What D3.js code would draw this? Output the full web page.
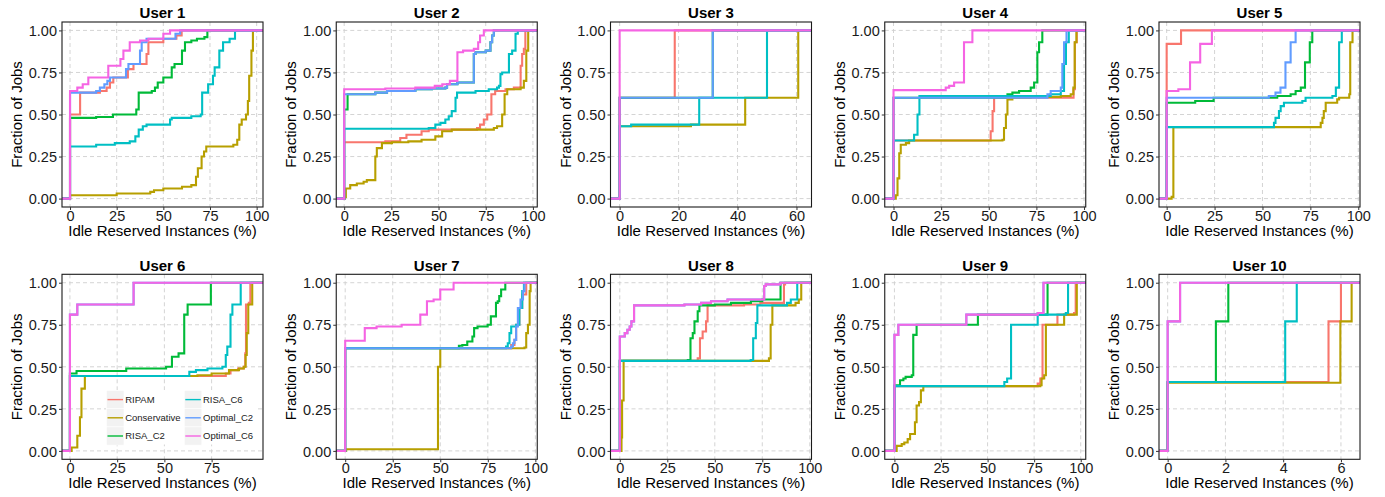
<!DOCTYPE html>
<html>
<head>
<meta charset="utf-8">
<script src="https://cdn.jsdelivr.net/npm/d3@7"></script>
<style>
  html, body { margin: 0; padding: 0; background: #fff; }
  svg { display: block; font-family: "Liberation Sans", Arial, Helvetica, sans-serif; }
</style>
</head>
<body>
<svg id="chart" width="1385" height="497"></svg>
<script>
// Series (drawn in this order, last on top)
const seriesNames = ["RIPAM", "Conservative", "RISA_C2", "RISA_C6", "Optimal_C2", "Optimal_C6"];
const seriesColors = ["#F8766D", "#B79F00", "#00BA38", "#00BFC4", "#619CFF", "#F564E3"];

const userTitles = ["User 1", "User 2", "User 3", "User 4", "User 5",
                    "User 6", "User 7", "User 8", "User 9", "User 10"];

// x axis range (idle reserved instances, %) and tick values for each user
const xRanges = [[-4.3, 103.4], [-4.2, 102.3], [-3.1, 65.1], [-4.6, 100.9], [-4.0, 100.9],
                 [-4.2, 102.2], [-4.7, 101.0], [-4.9, 100.9], [-5.2, 102.7], [-0.3, 6.66]];
const xTickValues = [[0, 25, 50, 75, 100], [0, 25, 50, 75, 100], [0, 20, 40, 60],
                     [0, 25, 50, 75, 100], [0, 25, 50, 75, 100], [0, 25, 50, 75],
                     [0, 25, 50, 75, 100], [0, 25, 50, 75, 100], [0, 25, 50, 75, 100], [0, 2, 4, 6]];
const yTickValues = [0, 0.25, 0.5, 0.75, 1];

// Empirical CDF jumps per user: one list of [idle %, fraction of jobs] per series,
// in the order of seriesNames.
const user1 = [
  [[0,0.50],[5.4,0.63],[16,0.64],[19.6,0.66],[21.4,0.69],[23.2,0.72],[31,0.77],[34,0.80],[41,0.86],[42,0.93],[50,0.95],[57,0.97],[59.8,1]],
  [[0,0.02],[25,0.03],[43,0.04],[45,0.05],[50,0.06],[60,0.07],[65,0.08],[67.5,0.13],[68.5,0.18],[70.5,0.25],[71.8,0.28],[73,0.31],[87.5,0.32],[89.6,0.35],[90.7,0.44],[92,0.47],[94.3,0.50],[95.3,0.58],[96,0.73],[97.2,0.88],[98,1]],
  [[0,0.48],[14,0.485],[23,0.50],[35.5,0.53],[36.8,0.63],[43.8,0.64],[45.5,0.66],[47,0.69],[50,0.72],[54.5,0.78],[56,0.80],[60,0.88],[61.6,0.93],[65,0.94],[68,0.95],[72,0.96],[73.6,1]],
  [[0,0.31],[14,0.32],[24,0.33],[32,0.34],[35,0.37],[36.8,0.41],[39,0.43],[41,0.44],[53.6,0.47],[54.5,0.48],[65,0.49],[70,0.50],[70.8,0.63],[74,0.68],[76.6,0.73],[77.5,0.78],[80,0.88],[82,0.93],[85.5,0.95],[88.4,1]],
  [[0,0.63],[14,0.64],[16,0.66],[18.4,0.68],[20,0.70],[21.4,0.72],[30,0.77],[31.3,0.80],[37.5,0.88],[38.4,0.93],[41,0.95],[56.5,0.98],[59,1]],
  [[0,0.64],[3.9,0.66],[6.8,0.68],[9.8,0.72],[20.5,0.79],[27,0.83],[28.6,0.88],[32,0.93],[37.5,0.94],[42,0.95],[50,0.98],[53.6,1]]
];
const user2 = [
  [[0,0.335],[21.8,0.34],[29.7,0.36],[33,0.38],[41,0.40],[44.8,0.41],[70.4,0.42],[72,0.44],[74,0.47],[75.8,0.50],[78,0.62],[80,0.64],[85.5,0.65],[89.9,0.66],[93.5,0.79],[94.3,0.86],[95.2,0.89],[96,1]],
  [[0.3,0.01],[0.9,0.06],[3.2,0.08],[6.7,0.09],[10.3,0.10],[12,0.11],[16.5,0.25],[17.3,0.30],[20,0.33],[25.3,0.335],[34,0.34],[41,0.35],[48.3,0.37],[51.9,0.40],[57,0.41],[79.3,0.42],[81,0.43],[83.7,0.50],[85,0.62],[86.4,0.65],[93.5,0.66],[95.2,0.70],[96.5,0.88],[97.5,1]],
  [[0,0.53],[1.8,0.62],[16.5,0.63],[22.7,0.64],[37.7,0.65],[46.5,0.655],[53.6,0.66],[54.5,0.68],[60,0.69],[68.7,0.86],[69.6,0.87],[75,0.88],[77.5,0.93],[78.4,0.97],[79.3,1]],
  [[0,0.415],[44.8,0.42],[48.3,0.44],[51,0.45],[53.6,0.47],[55.4,0.49],[57,0.52],[59,0.60],[59.8,0.63],[69.6,0.64],[76.6,0.65],[81,0.66],[82,0.67],[82.8,0.74],[83.7,0.75],[87.3,0.86],[89,0.88],[90.8,0.98],[92,1]],
  [[0,0.62],[16.5,0.63],[22.7,0.64],[37.7,0.65],[46.5,0.655],[53.6,0.66],[54.5,0.68],[60,0.69],[68.7,0.86],[69.6,0.87],[75,0.88],[77.5,0.93],[78.4,0.97],[79.3,1]],
  [[0,0.65],[21.8,0.655],[37.7,0.66],[48,0.67],[52,0.68],[56,0.70],[60,0.87],[63,0.88],[68.7,0.89],[71,0.93],[72,0.97],[74,1]]
];
const user3 = [
  [[0,0.60],[18.7,1]],
  [[0,0.43],[24.2,0.44],[42.6,0.60],[60.6,1]],
  [[0,0.60],[31.6,1]],
  [[0,0.43],[3.9,0.44],[27,0.60],[50,1]],
  [[0,0.60],[31.6,1]],
  [[0,1]]
];
const user4 = [
  [[0,0.345],[51,0.40],[52,0.52],[52.8,0.60],[94.5,0.65],[95.2,0.93],[96.2,1]],
  [[1.2,0.02],[2.1,0.12],[3,0.27],[3.8,0.32],[6.5,0.33],[8.2,0.345],[57.2,0.35],[58,0.42],[59,0.50],[59.8,0.59],[62.4,0.60],[72,0.605],[87.8,0.61],[93,0.62],[94.4,0.66],[95.1,0.93],[96,1]],
  [[0,0.60],[58.9,0.61],[59.8,0.62],[62.4,0.63],[65.9,0.64],[72,0.66],[73.8,0.69],[75.5,0.87],[76.4,0.93],[78.1,1]],
  [[0,0.345],[10.8,0.38],[12.6,0.50],[13.6,0.61],[82.5,0.62],[87.8,0.64],[89.5,0.80],[90.5,0.93],[92,1]],
  [[0,0.60],[80.8,0.62],[82.5,0.64],[87.8,0.66],[88.6,0.80],[89.5,0.93],[90.8,1]],
  [[0,0.645],[27.4,0.66],[29.2,0.67],[31.8,0.69],[37,0.93],[41.4,1]]
];
const user5 = [
  [[0,0.92],[7.5,1]],
  [[2.6,0.01],[3.5,0.425],[80.4,0.45],[81.3,0.48],[82,0.52],[83,0.57],[89,0.59],[90,0.60],[95.3,0.62],[95.8,0.93],[97,1]],
  [[0,0.57],[14.9,0.58],[24.5,0.60],[57.7,0.61],[64.7,0.62],[67.3,0.64],[70,0.66],[72.2,0.81],[74.7,0.93],[76,1]],
  [[0,0.425],[56,0.45],[56.8,0.48],[58.6,0.52],[59.5,0.55],[61.2,0.57],[70.8,0.58],[72.5,0.60],[86.5,0.61],[88.3,0.66],[90,0.93],[91.4,1]],
  [[0,0.60],[53.3,0.61],[56.8,0.63],[59.4,0.66],[62,0.81],[64.7,0.93],[67.3,1]],
  [[0,0.64],[6.1,0.65],[12.2,0.81],[17.5,0.92],[23.6,1]]
];
const user6 = [
  [[0,0.445],[82.5,0.46],[85,0.48],[89,0.49],[92,0.50],[92.8,0.58],[93.2,0.87],[94.7,0.88],[95.5,1]],
  [[0.9,0.02],[3.9,0.09],[5.3,0.20],[6.1,0.37],[7.9,0.445],[67.5,0.45],[75,0.46],[84.2,0.48],[89.5,0.49],[92,0.50],[93,0.57],[93.6,0.70],[94.4,0.87],[96.5,1]],
  [[0,0.46],[3.5,0.475],[29.8,0.49],[50.9,0.50],[54,0.56],[57.5,0.58],[60.5,0.81],[62.3,0.87],[74.6,1]],
  [[0,0.445],[63.2,0.47],[66.7,0.48],[72.8,0.49],[80.7,0.50],[82.5,0.57],[83.3,0.62],[85,0.81],[86,0.87],[90.4,1]],
  [[0,0.81],[3.9,0.87],[33.7,1]],
  [[0,0.81],[3.9,0.87],[33.7,1]]
];
const user7 = [
  [[0,0.61],[87.3,0.63],[89,0.66],[89.9,0.75],[91.6,0.85],[93.1,0.93],[95.2,1]],
  [[0.5,0.01],[48.8,0.50],[50,0.61],[94.3,0.615],[95.2,0.70],[96.1,0.75],[97,0.95],[97.5,1]],
  [[0,0.61],[59.8,0.625],[61.6,0.63],[64.2,0.65],[66.9,0.68],[67.8,0.73],[69.6,0.74],[74.9,0.75],[76.6,0.80],[79.3,0.88],[80.2,0.89],[81,0.92],[82,0.96],[84.2,1]],
  [[0,0.61],[84.6,0.62],[85.5,0.64],[86.4,0.70],[87.3,0.74],[89.9,0.75],[91.6,0.85],[93.1,0.95],[94,1]],
  [[0,0.61],[87.3,0.62],[88.2,0.64],[89,0.66],[89.9,0.74],[90.8,0.85],[92.2,0.90],[93.5,0.95],[94.3,1]],
  [[0,0.655],[10.3,0.73],[16.5,0.74],[29.7,0.75],[39.5,0.81],[43,0.89],[46.5,0.90],[50,0.96],[57,1]]
];
const user8 = [
  [[0,0.535],[41,0.55],[42.2,0.67],[43.6,0.71],[45.4,0.77],[46.2,0.865],[65.4,0.87],[74,0.88],[86.4,0.99],[87,1]],
  [[0.9,0.08],[1.2,0.30],[2,0.535],[78.5,0.55],[79.4,0.75],[80.3,0.865],[92.5,0.88],[94.2,0.90],[95.5,1]],
  [[0,0.535],[35.8,0.54],[37.2,0.67],[38.4,0.70],[39.3,0.77],[41,0.83],[41.9,0.865],[50,0.87],[58.5,0.88],[69,0.89],[75,0.90],[84.6,1]],
  [[0,0.535],[68.9,0.54],[70.2,0.67],[71.6,0.76],[72.4,0.865],[88,0.88],[90,0.90],[93.4,1]],
  [[0,0.68],[2.6,0.70],[4,0.72],[5.2,0.74],[6.1,0.77],[7.5,0.865],[34,0.87],[42.8,0.88],[48,0.89],[56.7,0.90],[76,0.98],[76.8,0.99],[84.6,1]],
  [[0,0.68],[2.6,0.70],[4,0.72],[5.2,0.74],[6.1,0.77],[7.5,0.865],[34,0.87],[42.8,0.88],[48,0.89],[56.7,0.90],[76,0.98],[76.8,0.99],[84.6,1]]
];
const user9 = [
  [[0,0.385],[76.9,0.40],[78.3,0.43],[79.5,0.75],[87.5,0.81],[96.4,0.82],[97.3,1]],
  [[1.2,0.03],[3.9,0.04],[5.3,0.05],[7.1,0.07],[8.4,0.10],[11,0.17],[11.9,0.27],[13.2,0.29],[14.2,0.36],[15.5,0.385],[78.3,0.39],[79,0.43],[80.4,0.45],[81.3,0.75],[91.1,0.81],[97.9,1]],
  [[0,0.39],[3,0.42],[4.8,0.43],[6,0.44],[9.3,0.45],[10.1,0.69],[11.9,0.75],[44.8,0.81],[82.2,1]],
  [[0,0.385],[59,0.41],[60.5,0.43],[62.6,0.75],[76.9,0.81],[92,0.82],[93.2,1]],
  [[0,0.69],[2.1,0.75],[38.6,0.81],[76.9,0.82],[80,1]],
  [[0,0.69],[2.1,0.75],[38.6,0.81],[76.9,0.82],[80,1]]
];
const user10 = [
  [[0,0.41],[5.57,0.77],[6.0,1]],
  [[0,0.405],[5.98,0.77],[6.37,1]],
  [[0,0.41],[1.67,0.77],[2.1,1]],
  [[0,0.41],[4.07,0.77],[4.47,1]],
  [[0,0.77],[0.43,1]],
  [[0,0.77],[0.43,1]]
];
const users = [user1, user2, user3, user4, user5, user6, user7, user8, user9, user10];

// ---- layout ----
const svg = d3.select("#chart");
const panelLefts = [62, 336.25, 610.5, 884.75, 1159];
const panelTops = [22, 274.3];
const panelW = 201, panelH = 185;
const fontTick = 14.5, fontTitle = 15;

const lineGen = (x, y) => d3.line().x(d => x(d[0])).y(d => y(d[1])).curve(d3.curveStepAfter);

users.forEach((steps, i) => {
  const col = i % 5, row = Math.floor(i / 5);
  const left = panelLefts[col], top = panelTops[row];
  const g = svg.append("g").attr("transform", `translate(${left},${top})`);

  const x = d3.scaleLinear().domain(xRanges[i]).range([0, panelW]);
  const y = d3.scaleLinear().domain([-0.05, 1.05]).range([panelH, 0]);

  // dashed major grid
  g.append("g").selectAll("line.vx").data(xTickValues[i]).join("line")
    .attr("x1", d => x(d)).attr("x2", d => x(d)).attr("y1", 0).attr("y2", panelH)
    .attr("stroke", "#cfcfcf").attr("stroke-width", 0.9).attr("stroke-dasharray", "4,3");
  g.append("g").selectAll("line.hy").data(yTickValues).join("line")
    .attr("y1", d => y(d)).attr("y2", d => y(d)).attr("x1", 0).attr("x2", panelW)
    .attr("stroke", "#cfcfcf").attr("stroke-width", 0.9).attr("stroke-dasharray", "4,3");

  // clip for the ecdf lines
  const clipId = `clip-${i}`;
  g.append("clipPath").attr("id", clipId).append("rect")
    .attr("x", 0).attr("y", 0).attr("width", panelW).attr("height", panelH);

  const lg = g.append("g").attr("clip-path", `url(#${clipId})`);
  const line = lineGen(x, y);
  steps.forEach((pts, s) => {
    const full = [[xRanges[i][0], 0], ...pts, [xRanges[i][1], 1]];
    lg.append("path").datum(full)
      .attr("d", line)
      .attr("fill", "none")
      .attr("stroke", seriesColors[s])
      .attr("stroke-width", 2.1)
      .attr("stroke-linejoin", "miter");
  });

  // legend (only in the first panel of the second row)
  if (i === 5) drawLegend(g);

  // panel border
  g.append("rect").attr("x", 0).attr("y", 0).attr("width", panelW).attr("height", panelH)
    .attr("fill", "none").attr("stroke", "#1a1a1a").attr("stroke-width", 1.1);

  // axes
  const xAxis = d3.axisBottom(x).tickValues(xTickValues[i]).tickSize(3).tickPadding(2)
    .tickFormat(d3.format("d"));
  const yAxis = d3.axisLeft(y).tickValues(yTickValues).tickSize(3).tickPadding(2)
    .tickFormat(d3.format(".2f"));
  const gx = g.append("g").attr("transform", `translate(0,${panelH})`).call(xAxis);
  const gy = g.append("g").call(yAxis);
  [gx, gy].forEach(a => {
    a.select(".domain").remove();
    a.selectAll(".tick line").attr("stroke", "#333").attr("stroke-width", 1);
    a.selectAll(".tick text").attr("fill", "#1a1a1a").attr("font-size", fontTick)
      .attr("font-family", "Liberation Sans, Arial, sans-serif");
  });
  gx.selectAll(".tick text").attr("dy", null).attr("y", 13.5).attr("dominant-baseline", "alphabetic");
  gy.selectAll(".tick text").attr("dy", "0.36em");

  // titles
  g.append("text").attr("x", panelW / 2).attr("y", -3.7)
    .attr("text-anchor", "middle").attr("font-weight", "bold").attr("font-size", fontTitle)
    .attr("fill", "#000").text(userTitles[i]);
  g.append("text").attr("x", panelW / 2).attr("y", panelH + 29)
    .attr("text-anchor", "middle").attr("font-size", fontTitle).attr("fill", "#000")
    .text("Idle Reserved Instances (%)");
  g.append("text")
    .attr("transform", `translate(${-40},${panelH / 2}) rotate(-90)`)
    .attr("text-anchor", "middle").attr("font-size", fontTitle).attr("fill", "#000")
    .text("Fraction of Jobs");
});

function drawLegend(g) {
  // two columns, three rows, placed inside the panel
  const lx = 106.5 - panelLefts[0], ly = 390 - panelTops[1];
  const keyW = 17.5, keyH = 18.2;
  const colX = [0, 77.8];
  const leg = g.append("g").attr("transform", `translate(${lx},${ly})`);
  leg.append("rect").attr("x", 0).attr("y", 0).attr("width", 150.5).attr("height", 54.5).attr("fill", "#fff");
  seriesNames.forEach((name, k) => {
    const c = Math.floor(k / 3), r = k % 3;
    const kx = colX[c], ky = 0.5 + r * keyH;
    leg.append("rect").attr("x", kx).attr("y", ky).attr("width", keyW).attr("height", keyH)
      .attr("fill", "#f2f2f2").attr("stroke", "#fff").attr("stroke-width", 0.6);
    leg.append("line").attr("x1", kx + 1).attr("x2", kx + keyW - 1)
      .attr("y1", ky + keyH / 2).attr("y2", ky + keyH / 2)
      .attr("stroke", seriesColors[k]).attr("stroke-width", 1.4);
    leg.append("text").attr("x", kx + keyW + 1.2).attr("y", ky + keyH / 2)
      .attr("dy", "0.35em").attr("font-size", 9.5).attr("fill", "#1a1a1a").text(name);
  });
}
</script>
</body>
</html>
